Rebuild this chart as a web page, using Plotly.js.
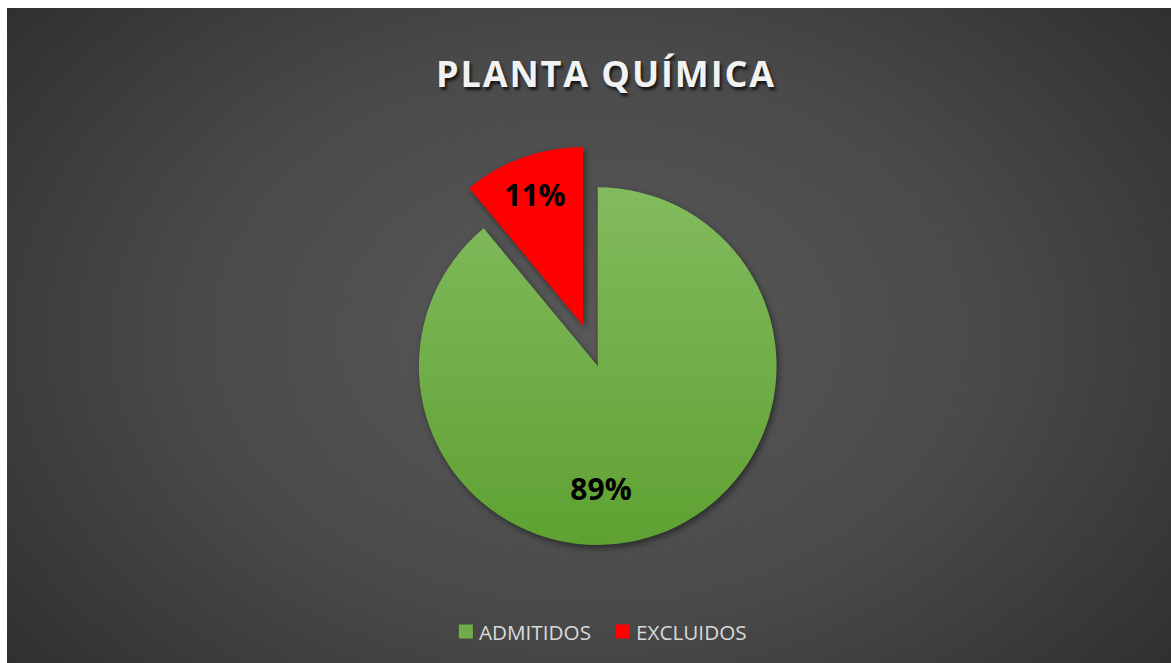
<!DOCTYPE html>
<html><head><meta charset="utf-8">
<script src="https://cdn.plot.ly/plotly-3.0.1.min.js"></script>
<style>
html,body{margin:0;padding:0;background:#fff;width:1171px;height:663px;overflow:hidden;}
#chart{position:absolute;left:7px;top:8px;width:1164px;height:655px;
 background:radial-gradient(ellipse 75% 95% at 50% 50%, #595959 0%, #4a4a4a 45%, #262626 100%);}
#chart .gtitle{letter-spacing:1.9px;}
#chart .slice path.surface{filter:drop-shadow(2px 3px 3px rgba(0,0,0,0.45));}
#chart .legendtext{transform:translateX(-7px);}
</style></head>
<body><div id="chart"></div>
<script>
const labels = ["ADMITIDOS", "EXCLUIDOS"];
const values = [89, 11];
const colors = ["#70ad47", "#ff0000"];
const pulls = [0, 0.24];

const trace = {
  type: "pie", labels: labels, values: values, sort: false,
  direction: "clockwise", rotation: 0, pull: pulls,
  marker: {colors: colors, line: {width: 0}},
  textinfo: "percent", texttemplate: "%{percent:.0%}",
  textposition: "inside", insidetextorientation: "horizontal",
  textfont: {family: "Open Sans", size: 30, color: "#000", weight: 700},
  hoverinfo: "label+percent",
  domain: {x: [0.317, 0.698], y: [0.1145, 0.792]}
};
const layout = {
  width: 1164, height: 655,
  paper_bgcolor: "rgba(0,0,0,0)", plot_bgcolor: "rgba(0,0,0,0)",
  margin: {l: 0, r: 0, t: 0, b: 0},
  title: {text: "PLANTA QUÍMICA", x: 0.5146, xanchor: "center", y: 0.898, yanchor: "middle",
    font: {family: "Open Sans", size: 36, color: "#f2f2f2", weight: 700, shadow: "2px 3px 3px rgba(0,0,0,0.7)"}},
  showlegend: true,
  legend: {orientation: "h", x: 0.5115, xanchor: "center", y: 0.048, yanchor: "middle",
    font: {family: "Open Sans", size: 20.7, color: "#d9d9d9"}, itemwidth: 30, traceorder: "normal"}
};
Plotly.newPlot("chart", [trace], layout, {displayModeBar: false, staticPlot: true}).then(function(gd){
  const svg = gd.querySelector("svg.main-svg");
  const ns = "http://www.w3.org/2000/svg";
  let defs = svg.querySelector("defs");
  if (!defs) { defs = document.createElementNS(ns, "defs"); svg.insertBefore(defs, svg.firstChild); }
  const g = document.createElementNS(ns, "linearGradient");
  g.setAttribute("id", "greenGrad"); g.setAttribute("x1", "0"); g.setAttribute("y1", "0");
  g.setAttribute("x2", "0"); g.setAttribute("y2", "1");
  [["0%", "#82bb5e"], ["100%", "#5fa132"]].forEach(function(s){
    const st = document.createElementNS(ns, "stop");
    st.setAttribute("offset", s[0]); st.setAttribute("stop-color", s[1]); g.appendChild(st);
  });
  defs.appendChild(g);
  const slices = gd.querySelectorAll(".slice");
  const p0 = slices[0] && slices[0].querySelector("path.surface");
  if (p0) p0.style.fill = "url(#greenGrad)";
  // nudge data labels toward Excel's best-fit placement
  const nudges = [[-27, 38], [-3, -6]];
  slices.forEach(function(s, i){
    const t = s.querySelector("g.slicetext");
    if (t && nudges[i]) {
      const tr = t.getAttribute("transform") || "";
      t.setAttribute("transform", "translate(" + nudges[i][0] + "," + nudges[i][1] + ") " + tr);
    }
  });
  // slightly larger legend squares
  gd.querySelectorAll(".legendpoints path").forEach(function(p){ p.setAttribute("d", "M7,7H-7V-7H7Z"); });
});
</script></body></html>
